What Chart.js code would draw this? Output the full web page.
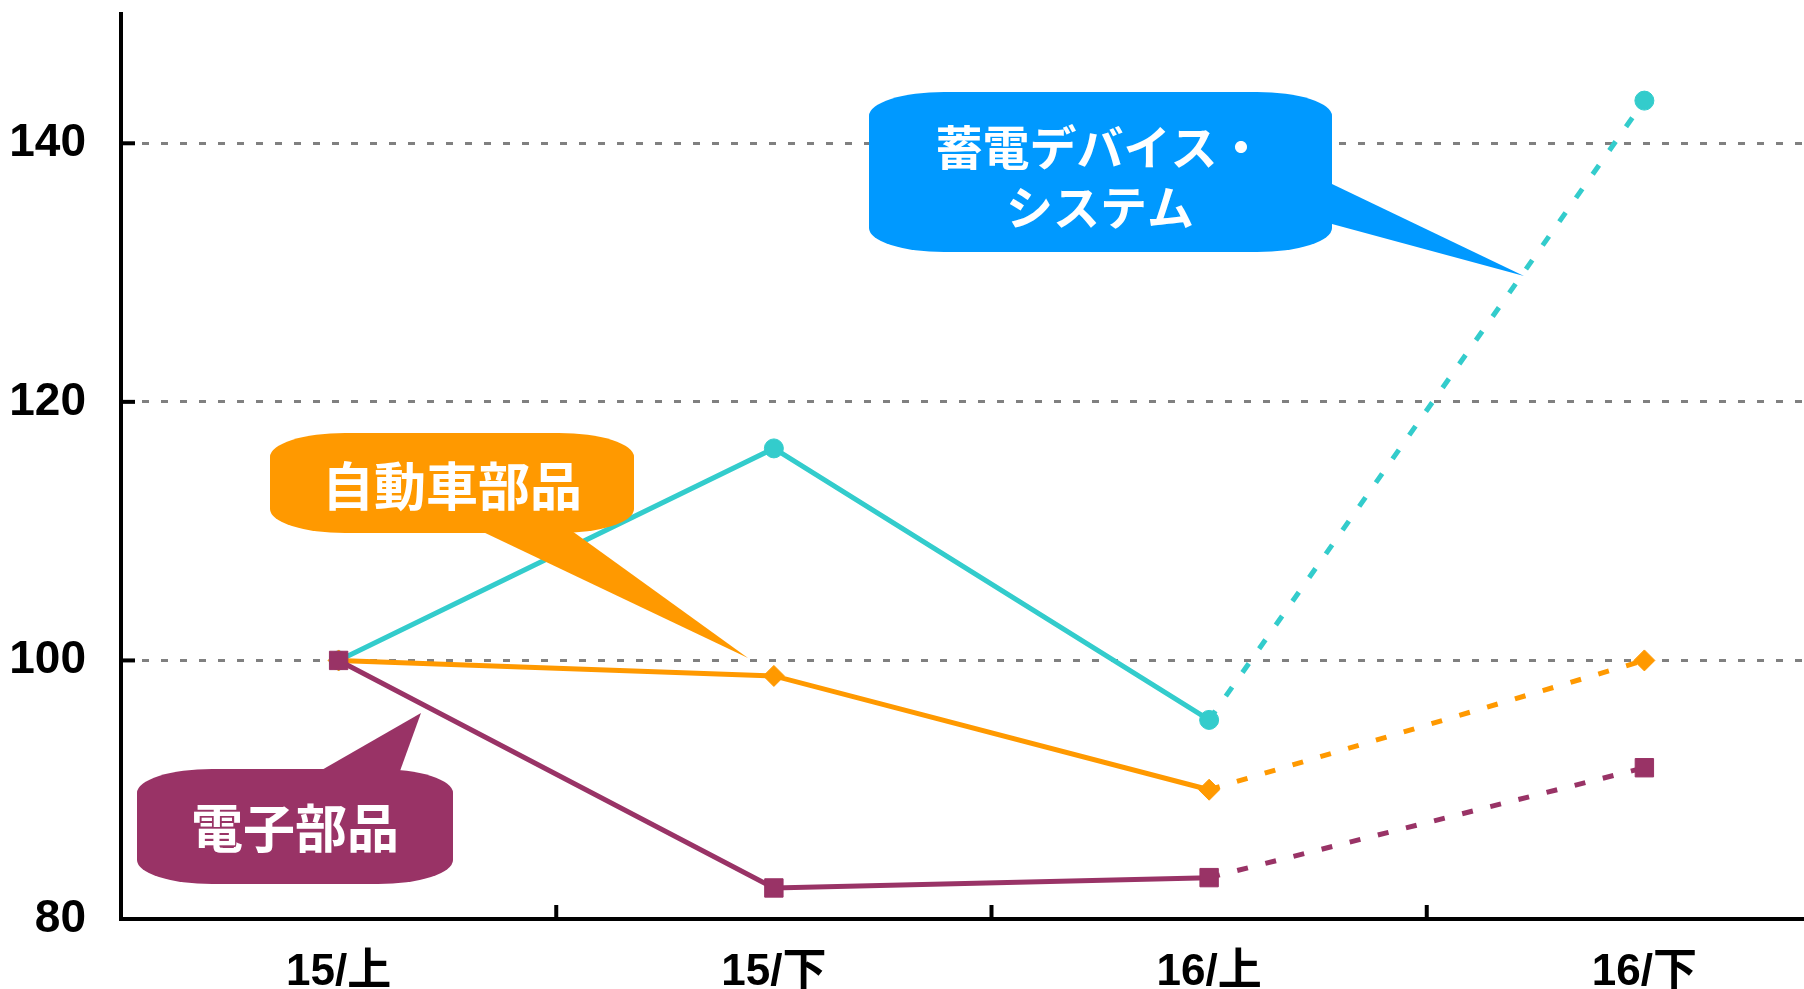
<!DOCTYPE html>
<html><head><meta charset="utf-8">
<script src="https://cdn.jsdelivr.net/npm/chart.js@4"></script>
<style>
html,body{margin:0;padding:0;background:#fff;overflow:hidden;width:1804px;height:989px}
#wrap{position:absolute;left:0;top:0;width:1876px;height:989px}
</style>
</head><body><div id="wrap"><canvas id="c" width="1876" height="989"></canvas></div>
<script>
const categories = ['15/上','15/下','16/上','16/下'];
const denshiBuhin = [100, 82.4, 83.2, 91.7];      // 電子部品
const jidoshaBuhin = [100, 98.8, 90.0, 100];      // 自動車部品
const chikudenDevice = [100, 116.4, 95.4, 143.3]; // 蓄電デバイス・システム
const yTickValues = [80, 100, 120, 140];

const callouts = [
  {lines:['蓄電デバイス・','システム'], color:'#0099FF', box:[869,92,463,160], tail:[[1332,184],[1332,224],[1524,276]], size:47, cx:1100, ys:[147,207]},
  {lines:['自動車部品'], color:'#FF9900', box:[270,433,364,100], tail:[[481,531],[572,531],[748,658]], size:52, cx:452, ys:[486]},
  {lines:['電子部品'], color:'#993366', box:[137,769,316,115], tail:[[320,771],[400,771],[421,713]], size:52, cx:295, ys:[828]}
];

function roundBox(ctx,x,y,w,h,rx,ry){
  ctx.beginPath();
  ctx.moveTo(x+rx,y);
  ctx.lineTo(x+w-rx,y);
  ctx.ellipse(x+w-rx,y+ry,rx,ry,0,-Math.PI/2,0);
  ctx.lineTo(x+w,y+h-ry);
  ctx.ellipse(x+w-rx,y+h-ry,rx,ry,0,0,Math.PI/2);
  ctx.lineTo(x+rx,y+h);
  ctx.ellipse(x+rx,y+h-ry,rx,ry,0,Math.PI/2,Math.PI);
  ctx.lineTo(x,y+ry);
  ctx.ellipse(x+rx,y+ry,rx,ry,0,Math.PI,Math.PI*1.5);
  ctx.closePath();
}

const decor = {
  id:'decor',
  afterDatasetsDraw(chart){
    const {ctx, scales:{x,y}, chartArea:a} = chart;
    ctx.save();
    ctx.strokeStyle='#000'; ctx.lineWidth=4;
    y.ticks.forEach(t=>{
      if (t.value===80) return;
      const py = y.getPixelForValue(t.value);
      ctx.beginPath(); ctx.moveTo(a.left, py); ctx.lineTo(a.left+14, py); ctx.stroke();
    });
    for (let i=0;i<categories.length-1;i++){
      const px = (x.getPixelForValue(i)+x.getPixelForValue(i+1))/2;
      ctx.beginPath(); ctx.moveTo(px, a.bottom); ctx.lineTo(px, a.bottom-14); ctx.stroke();
    }
    callouts.forEach(c=>{
      ctx.fillStyle=c.color;
      const [bx,by,bw,bh]=c.box;
      roundBox(ctx,bx,by,bw,bh,75,24);
      ctx.fill();
      ctx.beginPath();
      ctx.moveTo(c.tail[0][0],c.tail[0][1]);
      ctx.lineTo(c.tail[2][0],c.tail[2][1]);
      ctx.lineTo(c.tail[1][0],c.tail[1][1]);
      ctx.closePath();
      ctx.fill();
      ctx.fillStyle='#fff';
      ctx.font='bold '+c.size+'px "Noto Sans CJK JP"';
      ctx.textAlign='center'; ctx.textBaseline='middle';
      c.lines.forEach((t,i)=>ctx.fillText(t,c.cx,c.ys[i]));
    });
    ctx.restore();
  }
};

const dashSeg = {borderDash: c => c.p0DataIndex >= 2 ? [11,18] : undefined};
const tickFont = {family:"'Liberation Sans','Noto Sans CJK JP',sans-serif", weight:'bold'};

new Chart(document.getElementById('c'), {
  type:'line',
  data:{
    labels:categories,
    datasets:[
      {label:'電子部品', data:denshiBuhin, borderColor:'#993366', backgroundColor:'#993366', borderWidth:5,
       pointStyle:'rect', pointRadius:13, pointBackgroundColor:'#993366', pointBorderColor:'#993366', pointBorderWidth:1, segment:dashSeg},
      {label:'自動車部品', data:jidoshaBuhin, borderColor:'#FF9900', backgroundColor:'#FF9900', borderWidth:5,
       pointStyle:'rectRot', pointRadius:10.5, pointBackgroundColor:'#FF9900', pointBorderColor:'#FF9900', pointBorderWidth:1, segment:dashSeg},
      {label:'蓄電デバイス・システム', data:chikudenDevice, borderColor:'#33CCCC', backgroundColor:'#33CCCC', borderWidth:5,
       pointStyle:'circle', pointRadius:9.5, pointBackgroundColor:'#33CCCC', pointBorderColor:'#33CCCC', pointBorderWidth:1, segment:dashSeg}
    ]
  },
  options:{
    responsive:false, devicePixelRatio:1, animation:false,
    layout:{padding:{top:12,right:9,left:0,bottom:0}},
    plugins:{legend:{display:false}, tooltip:{enabled:false}},
    scales:{
      x:{
        offset:true,
        grid:{display:false, drawTicks:false},
        border:{display:true, color:'#000', width:4},
        ticks:{color:'#000', font:{...tickFont, size:44}, padding:27, maxRotation:0},
        afterFit(s){ s.height = 70; s.paddingLeft = 0; s.paddingRight = 0; }
      },
      y:{
        min:80, max:150, bounds:'data',
        afterBuildTicks(s){ s.ticks = yTickValues.map(v=>({value:v})); },
        grid:{drawTicks:false, lineWidth:3, color: c => c.tick && c.tick.value===80 ? 'rgba(0,0,0,0)' : '#808080'},
        border:{display:true, color:'#000', width:4, dash:[7,12]},
        ticks:{color:'#000', font:{...tickFont, size:46}, padding:35},
        afterFit(s){ s.width = 121; s.paddingTop = 0; s.paddingBottom = 0; }
      }
    }
  },
  plugins:[decor]
});
</script>
</body></html>
